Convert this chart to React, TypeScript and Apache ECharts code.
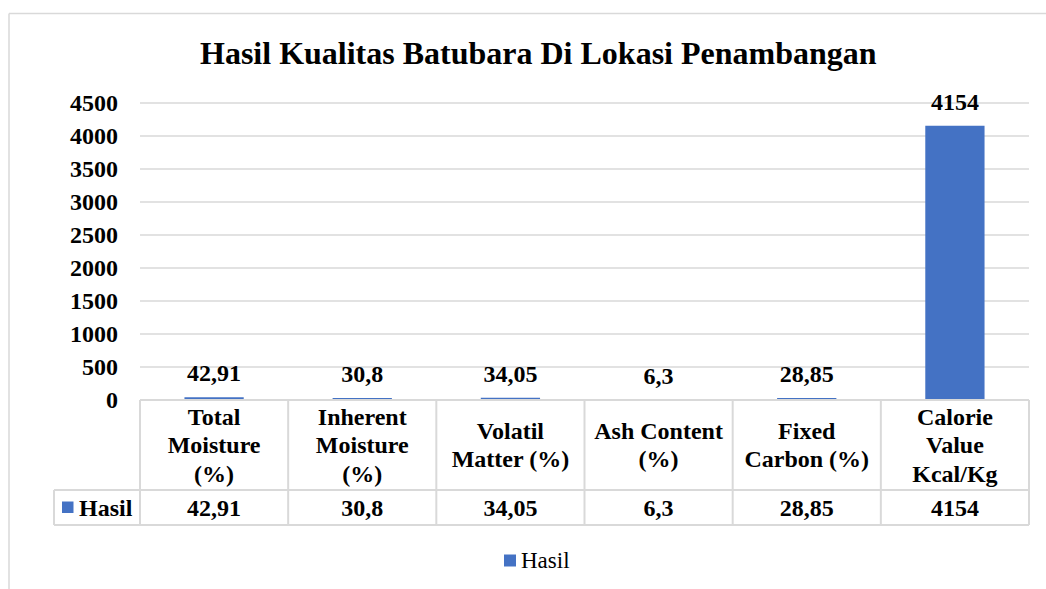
import React, { useEffect, useRef } from "react";
import * as echarts from "echarts";

const titleText = "Hasil Kualitas Batubara Di Lokasi Penambangan";
const seriesName = "Hasil";
const categories = [
  "Total\nMoisture\n(%)",
  "Inherent\nMoisture\n(%)",
  "Volatil\nMatter (%)",
  "Ash Content\n(%)",
  "Fixed\nCarbon (%)",
  "Calorie\nValue\nKcal/Kg",
];
const values = [42.91, 30.8, 34.05, 6.3, 28.85, 4154];
const yMax = 4500;
const yInterval = 500;

const fmt = (v: number) => String(v).replace(".", ",");

const FONT = "'Liberation Serif', 'Times New Roman', serif";
const W = 1046;
const H = 589;
const GL = 140;
const GR = 1029;
const GT = 103;
const GB = 400;
const HEAD_B = 490;
const ROW_B = 525;
const KEY_L = 54;
const BORDER = "#d9d9d9";
const BLUE = "#4472c4";

export default function App() {
  const ref = useRef<HTMLDivElement>(null);
  useEffect(() => {
    if (!ref.current) return;
    const chart = echarts.init(ref.current, null, { renderer: "svg" });
    const colW = (GR - GL) / categories.length;
    const lineStyle = { stroke: BORDER, lineWidth: 2 };
    const graphics: any[] = [];
    // outer chart border (top and left)
    graphics.push({ type: "line", shape: { x1: 9, y1: 13.5, x2: W, y2: 13.5 }, style: { stroke: BORDER, lineWidth: 1.5 } });
    graphics.push({ type: "line", shape: { x1: 9, y1: 13.5, x2: 9, y2: H }, style: { stroke: BORDER, lineWidth: 1.5 } });
    // table
    graphics.push({ type: "line", shape: { x1: GL, y1: GB, x2: GR, y2: GB }, style: lineStyle, z: 10 });
    graphics.push({ type: "line", shape: { x1: KEY_L, y1: HEAD_B, x2: GR, y2: HEAD_B }, style: lineStyle });
    graphics.push({ type: "line", shape: { x1: KEY_L, y1: ROW_B, x2: GR, y2: ROW_B }, style: lineStyle });
    graphics.push({ type: "line", shape: { x1: KEY_L, y1: HEAD_B, x2: KEY_L, y2: ROW_B }, style: lineStyle });
    for (let i = 0; i <= categories.length; i++) {
      const x = GL + i * colW;
      graphics.push({ type: "line", shape: { x1: x, y1: GB, x2: x, y2: ROW_B }, style: lineStyle });
    }
    // key cell
    graphics.push({ type: "rect", shape: { x: 62, y: 501.5, width: 11.5, height: 11.5 }, style: { fill: BLUE } });
    graphics.push({
      type: "text",
      x: 79,
      y: (HEAD_B + ROW_B) / 2,
      style: { text: seriesName, font: `bold 24px ${FONT}`, fill: "#000", textVerticalAlign: "middle", textAlign: "left" },
    });

    chart.setOption({
      animation: false,
      backgroundColor: "#fff",
      title: {
        text: titleText,
        left: 195,
        top: 32,
        textStyle: { fontFamily: FONT, fontWeight: "bold", fontSize: 32, color: "#000" },
      },
      legend: {
        data: [seriesName],
        left: 499,
        top: 544,
        itemWidth: 12,
        itemHeight: 12,
        icon: "rect",
        itemGap: 5,
        textStyle: { fontFamily: FONT, fontSize: 23, color: "#000" },
      },
      grid: { left: GL, right: W - GR, top: GT, bottom: H - GB, containLabel: false },
      xAxis: [
        {
          type: "category",
          data: categories,
          axisLine: { show: false },
          axisTick: { show: false },
          axisLabel: {
            interval: 0,
            margin: 45,
            verticalAlign: "middle",
            lineHeight: 28.5,
            fontFamily: FONT,
            fontWeight: "bold",
            fontSize: 24,
            color: "#000",
          },
        },
        {
          type: "category",
          position: "bottom",
          data: values.map(fmt),
          axisLine: { show: false },
          axisTick: { show: false },
          axisLabel: {
            interval: 0,
            margin: (HEAD_B + ROW_B) / 2 - GB,
            verticalAlign: "middle",
            fontFamily: FONT,
            fontWeight: "bold",
            fontSize: 24,
            color: "#000",
          },
        },
      ],
      yAxis: {
        type: "value",
        min: 0,
        max: yMax,
        interval: yInterval,
        axisLine: { show: false },
        axisTick: { show: false },
        splitLine: { lineStyle: { color: BORDER, width: 1.5 } },
        axisLabel: {
          margin: 22,
          formatter: (v: number) => String(v),
          fontFamily: FONT,
          fontWeight: "bold",
          fontSize: 24,
          color: "#000",
        },
      },
      series: [
        {
          name: seriesName,
          type: "bar",
          data: values,
          barWidth: "40%",
          itemStyle: { color: BLUE },
          label: {
            show: true,
            position: "top",
            distance: 12,
            formatter: (p: any) => fmt(p.value),
            fontFamily: FONT,
            fontWeight: "bold",
            fontSize: 24,
            color: "#000",
          },
        },
      ],
      graphic: graphics,
    });
    return () => chart.dispose();
  }, []);
  return <div ref={ref} style={{ position: "absolute", left: 0, top: 0, width: W, height: H }} />;
}
